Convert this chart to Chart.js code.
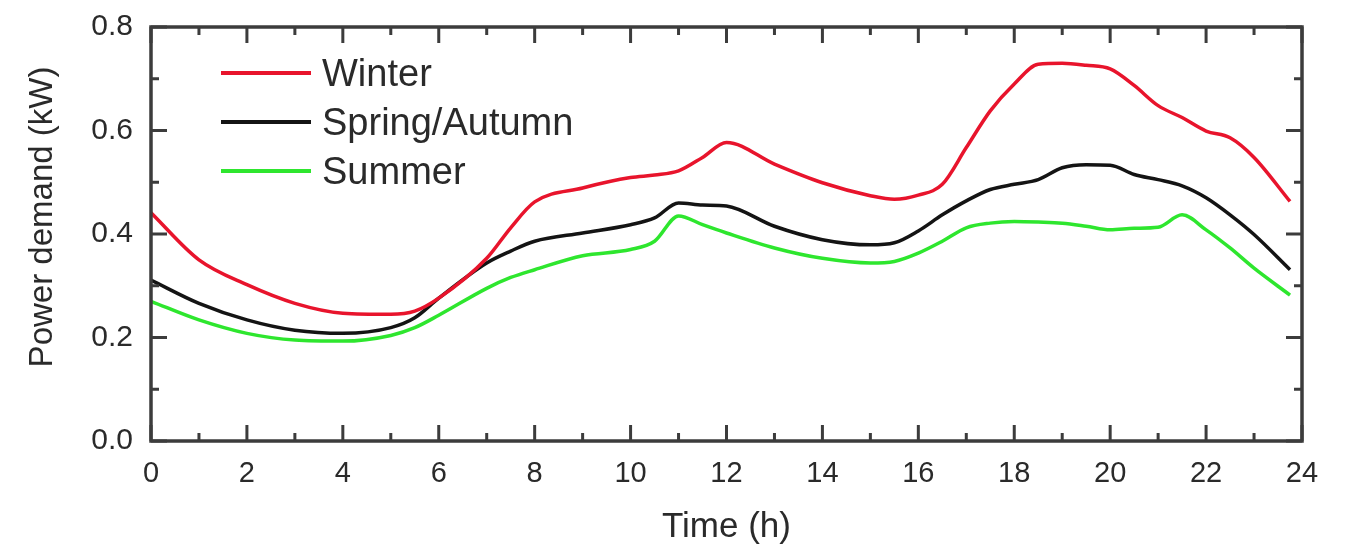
<!DOCTYPE html>
<html>
<head>
<meta charset="utf-8">
<script src="https://cdn.jsdelivr.net/npm/chart.js@4.4.1/dist/chart.umd.min.js"></script>
<style>
  html, body { margin: 0; padding: 0; background: #fff; }
  #wrap { width: 1350px; height: 553px; }
</style>
</head>
<body>
<div id="wrap"><canvas id="demandChart" width="1350" height="553"></canvas></div>
<script>
const hours = [0, 1, 2, 3, 4, 5, 5.5, 6, 7, 7.5, 8, 9, 10, 10.5, 11, 11.5, 12, 13, 14, 15, 15.5, 16, 16.5, 17, 17.5, 18, 18.5, 19, 19.5, 20, 20.5, 21, 21.5, 22, 22.5, 23, 23.75];

const winter = [0.441, 0.350, 0.302, 0.266, 0.247, 0.245, 0.251, 0.276, 0.353, 0.412, 0.462, 0.489, 0.509, 0.514, 0.522, 0.548, 0.577, 0.535, 0.499, 0.474, 0.467, 0.475, 0.496, 0.567, 0.638, 0.690, 0.728, 0.730, 0.726, 0.719, 0.687, 0.648, 0.625, 0.599, 0.586, 0.548, 0.463];
const springAutumn = [0.311, 0.266, 0.234, 0.214, 0.208, 0.219, 0.238, 0.276, 0.344, 0.367, 0.386, 0.402, 0.418, 0.431, 0.460, 0.456, 0.454, 0.415, 0.389, 0.379, 0.383, 0.406, 0.437, 0.464, 0.486, 0.496, 0.505, 0.528, 0.534, 0.533, 0.515, 0.505, 0.493, 0.470, 0.437, 0.399, 0.331];
const summer = [0.270, 0.234, 0.208, 0.195, 0.193, 0.204, 0.219, 0.243, 0.295, 0.316, 0.331, 0.358, 0.370, 0.386, 0.435, 0.418, 0.402, 0.373, 0.353, 0.344, 0.347, 0.363, 0.386, 0.412, 0.421, 0.424, 0.423, 0.421, 0.415, 0.408, 0.411, 0.413, 0.437, 0.408, 0.373, 0.334, 0.282];

const seriesNames = ["Winter", "Spring/Autumn", "Summer"];
const seriesColors = ["#e8142c", "#141414", "#2ee62e"];

const xTicks = [0, 2, 4, 6, 8, 10, 12, 14, 16, 18, 20, 22, 24];
const yTicks = [0.0, 0.2, 0.4, 0.6, 0.8];

const FONT = "'Liberation Sans', Arial, sans-serif";
const AXIS = "#3c3c3c";
const TEXT = "#2a2a2a";

function toPoints(vals) {
  return hours.map((h, i) => ({ x: h, y: vals[i] }));
}

// frame, inward ticks, y title and legend
const framePlugin = {
  id: "frame",
  afterDatasetsDraw(chart) {
    const { ctx, chartArea: a, scales } = chart;
    const xs = scales.x, ys = scales.y;
    ctx.save();
    ctx.strokeStyle = AXIS;
    ctx.lineWidth = 3.5;
    ctx.strokeRect(a.left, a.top, a.right - a.left, a.bottom - a.top);

    ctx.lineWidth = 3;
    for (let h = 0; h <= 24; h++) {
      const px = xs.getPixelForValue(h);
      const len = h % 2 === 0 ? 16 : 8;
      ctx.beginPath();
      ctx.moveTo(px, a.bottom); ctx.lineTo(px, a.bottom - len);
      ctx.moveTo(px, a.top); ctx.lineTo(px, a.top + len);
      ctx.stroke();
    }
    for (let k = 0; k <= 8; k++) {
      const py = ys.getPixelForValue(k / 10);
      const len = k % 2 === 0 ? 16 : 8;
      ctx.beginPath();
      ctx.moveTo(a.left, py); ctx.lineTo(a.left + len, py);
      ctx.moveTo(a.right, py); ctx.lineTo(a.right - len, py);
      ctx.stroke();
    }

    // y axis title, sits a bit above the plot centre in the original
    ctx.save();
    ctx.translate(43, 217);
    ctx.rotate(-Math.PI / 2);
    ctx.fillStyle = TEXT;
    ctx.font = "33px " + FONT;
    ctx.textAlign = "center";
    ctx.textBaseline = "middle";
    ctx.fillText("Power demand (kW)", 0, 0);
    ctx.restore();

    // legend
    const rows = [73, 122, 171];
    chart.data.datasets.forEach((ds, i) => {
      ctx.strokeStyle = ds.borderColor;
      ctx.lineWidth = 4;
      ctx.beginPath();
      ctx.moveTo(221, rows[i]); ctx.lineTo(311, rows[i]);
      ctx.stroke();
      ctx.fillStyle = TEXT;
      ctx.font = "38px " + FONT;
      ctx.textBaseline = "middle";
      ctx.textAlign = "left";
      ctx.fillText(ds.label, 322, rows[i] + 3);
    });
    ctx.restore();
  }
};

new Chart(document.getElementById("demandChart"), {
  type: "line",
  data: {
    datasets: [
      { label: seriesNames[0], data: toPoints(winter), borderColor: seriesColors[0] },
      { label: seriesNames[1], data: toPoints(springAutumn), borderColor: seriesColors[1] },
      { label: seriesNames[2], data: toPoints(summer), borderColor: seriesColors[2] },
    ],
  },
  options: {
    responsive: false,
    animation: false,
    layout: { padding: { left: 0, right: 48, top: 27, bottom: 0 } },
    elements: {
      point: { radius: 0 },
      line: { borderWidth: 3.5, cubicInterpolationMode: "monotone", fill: false },
    },
    plugins: { legend: { display: false }, tooltip: { enabled: false } },
    scales: {
      x: {
        type: "linear",
        min: 0, max: 24,
        afterBuildTicks: s => { s.ticks = xTicks.map(v => ({ value: v })); },
        afterFit: s => { s.height = 112; s.paddingLeft = 0; s.paddingRight = 0; },
        grid: { display: false, drawTicks: false },
        border: { display: false },
        ticks: { color: TEXT, font: { family: FONT, size: 29 }, padding: 16, maxRotation: 0, autoSkip: false },
        title: { display: true, text: "Time (h)", color: TEXT, font: { family: FONT, size: 35 }, padding: { top: 0, bottom: 5 } },
      },
      y: {
        min: 0, max: 0.8,
        afterBuildTicks: s => { s.ticks = yTicks.map(v => ({ value: v })); },
        afterFit: s => { s.width = 151; s.paddingTop = 0; s.paddingBottom = 0; },
        grid: { display: false, drawTicks: false },
        border: { display: false },
        ticks: { color: TEXT, font: { family: FONT, size: 30 }, padding: 18, callback: v => v.toFixed(1) },
        title: { display: false },
      },
    },
  },
  plugins: [framePlugin],
});
</script>
</body>
</html>
